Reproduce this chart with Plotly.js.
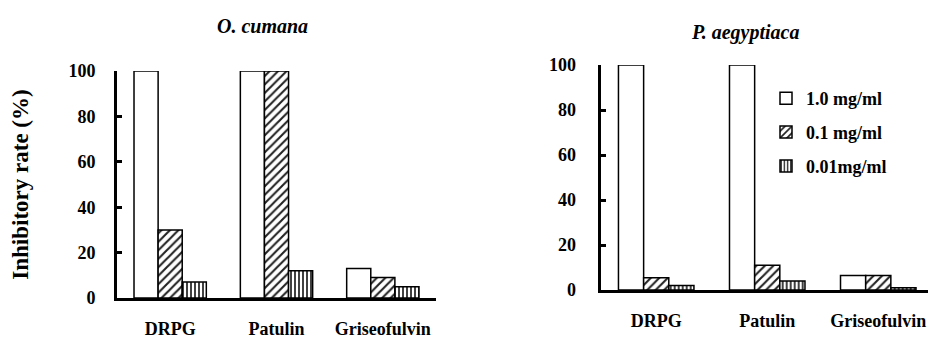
<!DOCTYPE html>
<html>
<head>
<meta charset="utf-8">
<script src="https://cdn.plot.ly/plotly-3.0.1.min.js"></script>
<style>
html,body{margin:0;padding:0;background:#fff;}
#chart{width:928px;height:338px;}
#chart svg text{font-family:"Liberation Serif","Times New Roman",serif !important;}
</style>
</head>
<body>
<div id="chart"></div>
<script>
const categories = ["DRPG", "Patulin", "Griseofulvin"];
const seriesNames = ["1.0 mg/ml", "0.1 mg/ml", "0.01mg/ml"];
// O. cumana
const cumana_1_0 = [100, 100, 13];
const cumana_0_1 = [30, 100, 9];
const cumana_0_01 = [7, 12, 5];
// P. aegyptiaca
const aegyptiaca_1_0 = [100, 100, 6.5];
const aegyptiaca_0_1 = [5.5, 11, 6.5];
const aegyptiaca_0_01 = [2, 4, 1];
const yTicks = [0, 20, 40, 60, 80, 100];
const titles = ["O. cumana", "P. aegyptiaca"];

const FONT = "Liberation Serif";
const patterns = [
  {shape: "", fgcolor: "black", bgcolor: "white"},
  {shape: "/", fgcolor: "#222", bgcolor: "white", size: 6, solidity: 0.35},
  {shape: "|", fgcolor: "#111", bgcolor: "white", size: 4, solidity: 0.4}
];

function mk(vals, i, xa, ya, show) {
  return {
    type: "bar", x: categories, y: vals, name: seriesNames[i],
    xaxis: xa, yaxis: ya, showlegend: show, legendgroup: "g" + i,
    marker: {color: "white", line: {color: "black", width: 1.5}, pattern: patterns[i]},
    hoverinfo: "skip"
  };
}

const data = [
  mk(cumana_1_0, 0, "x", "y", false),
  mk(cumana_0_1, 1, "x", "y", false),
  mk(cumana_0_01, 2, "x", "y", false),
  mk(aegyptiaca_1_0, 0, "x2", "y2", true),
  mk(aegyptiaca_0_1, 1, "x2", "y2", true),
  mk(aegyptiaca_0_01, 2, "x2", "y2", true)
];

const tickFont = {family: FONT, size: 18, color: "black", weight: "bold"};

function xaxis(domain, range, anchor) {
  return {
    domain: domain, range: range, anchor: anchor, type: "category",
    showline: true, linecolor: "black", linewidth: 3, ticks: "",
    showgrid: false, zeroline: false, tickfont: tickFont,
    ticklabelstandoff: 12, fixedrange: true
  };
}
function yaxis(domain, anchor, standoff) {
  return {
    domain: domain, range: [0, 100], anchor: anchor,
    tickvals: yTicks, ticktext: yTicks.map(String),
    showline: true, linecolor: "black", linewidth: 3,
    ticks: "inside", ticklen: 5, tickwidth: 3, tickcolor: "black",
    showgrid: false, zeroline: false, tickfont: tickFont,
    ticklabelstandoff: standoff, fixedrange: true
  };
}

const W = 928, H = 338;
const layout = {
  width: W, height: H,
  margin: {l: 0, r: 0, t: 0, b: 0, autoexpand: false},
  paper_bgcolor: "white", plot_bgcolor: "white",
  barmode: "group", bargap: 0.32, bargroupgap: 0,
  font: {family: FONT, color: "black"},
  xaxis: xaxis([117 / W, 436 / W], [-0.5, 2.5], "y"),
  yaxis: Object.assign(yaxis([1 - 298 / H, 1 - 71 / H], "x", 15), {
    title: {text: "Inhibitory rate (%)", font: {family: FONT, size: 23, color: "black", weight: "bold"}, standoff: 34}
  }),
  xaxis2: xaxis([600.7 / W, 1], [-0.5, 2.448], "y2"),
  yaxis2: yaxis([1 - 290 / H, 1 - 65 / H], "x2", 18),
  legend: {
    x: 766 / W, y: 1 - 80 / H, xanchor: "left", yanchor: "top",
    font: {family: FONT, size: 18, color: "black", weight: "bold"},
    tracegroupgap: 7.5, bgcolor: "rgba(0,0,0,0)", itemclick: false, itemdoubleclick: false
  },
  annotations: [
    {text: titles[0], xref: "paper", yref: "paper", x: 262 / W, y: 1 - 26 / H, xanchor: "center", yanchor: "middle", showarrow: false,
     font: {family: FONT, size: 20, color: "black", weight: "bold", style: "italic"}},
    {text: titles[1], xref: "paper", yref: "paper", x: 745 / W, y: 1 - 32 / H, xanchor: "center", yanchor: "middle", showarrow: false,
     font: {family: FONT, size: 20, color: "black", weight: "bold", style: "italic"}}
  ]
};

Plotly.newPlot("chart", data, layout, {displayModeBar: false, staticPlot: true});
</script>
</body>
</html>
